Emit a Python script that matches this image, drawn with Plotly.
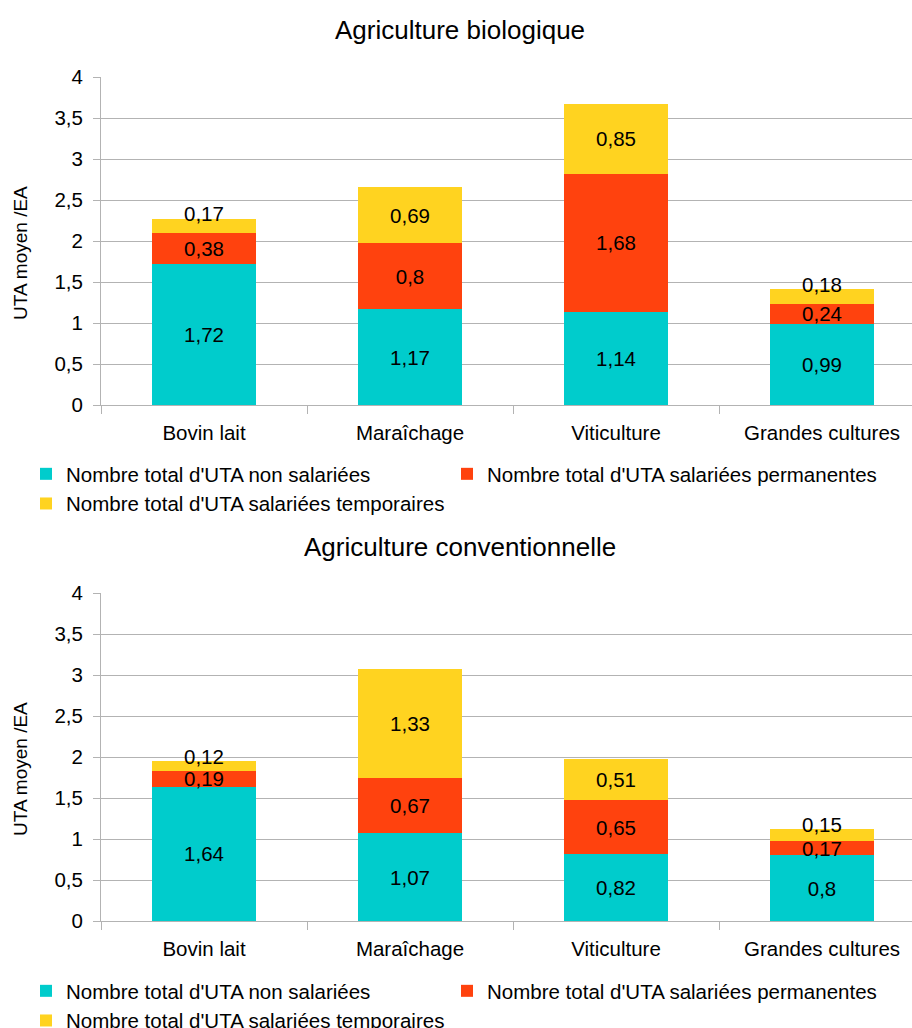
import plotly.graph_objects as go

# --- data -------------------------------------------------------------
categories = ["Bovin lait", "Maraîchage", "Viticulture", "Grandes cultures"]

series_names = [
    "Nombre total d'UTA non salariées",
    "Nombre total d'UTA salariées permanentes",
    "Nombre total d'UTA salariées temporaires",
]

bio_non_salariees = [1.72, 1.17, 1.14, 0.99]
bio_permanentes = [0.38, 0.8, 1.68, 0.24]
bio_temporaires = [0.17, 0.69, 0.85, 0.18]

conv_non_salariees = [1.64, 1.07, 0.82, 0.8]
conv_permanentes = [0.19, 0.67, 0.65, 0.17]
conv_temporaires = [0.12, 1.33, 0.51, 0.15]

panel_titles = ["Agriculture biologique", "Agriculture conventionnelle"]
y_title = "UTA moyen /EA"

# --- style ------------------------------------------------------------
colors = ["#00cccc", "#ff420e", "#ffd320"]
FONT = "Liberation Sans, Arial, sans-serif"
GRID = "#b3b3b3"
W, H = 912, 1028
L_MARGIN = 101
TXT = 20.5

# vertical placement of each panel (pixels from top: value 4 -> value 0)
panels = [
    dict(top=77, bottom=405, title_y=30, legend_top=454,
         series=[bio_non_salariees, bio_permanentes, bio_temporaires]),
    dict(top=593, bottom=921, title_y=547, legend_top=971,
         series=[conv_non_salariees, conv_permanentes, conv_temporaires]),
]
# legend columns: left column holds series 0 and 2, right column series 1
legend_cols_x = [26, 447]


def fr(v):
    """Number with a decimal comma."""
    return f"{v:g}".replace(".", ",")


fig = go.Figure()
annotations = []
plot_w = W - L_MARGIN

for p_idx, panel in enumerate(panels):
    suffix = "" if p_idx == 0 else str(p_idx + 1)
    xa, ya = "x" + suffix, "y" + suffix
    left_legend = "legend" + suffix
    right_legend = "legend" + str(p_idx + 3)
    values = panel["series"]
    n_series = len(values)

    for s_idx, (name, vals) in enumerate(zip(series_names, values)):
        is_top = s_idx == n_series - 1
        texts = []
        for c_idx, v in enumerate(vals):
            # thin top segments get their label just above the stack instead
            if is_top and v < 0.3:
                texts.append("")
                stack_top = sum(values[k][c_idx] for k in range(n_series))
                annotations.append(dict(
                    x=categories[c_idx], y=stack_top, xref=xa, yref=ya,
                    text=fr(v), showarrow=False, yanchor="middle", yshift=5,
                    font=dict(family=FONT, size=TXT, color="#000000"),
                ))
            else:
                texts.append(fr(v))
        fig.add_trace(go.Bar(
            x=categories, y=vals, name=name,
            marker=dict(color=colors[s_idx], line=dict(width=0)),
            width=0.505,
            text=texts, textposition="inside", insidetextanchor="middle",
            textangle=0, constraintext="none", cliponaxis=False,
            textfont=dict(family=FONT, size=TXT, color="#000000"),
            xaxis=xa, yaxis=ya,
            legend=right_legend if s_idx == 1 else left_legend,
            hoverinfo="skip",
        ))

    dom = [1 - panel["bottom"] / H, 1 - panel["top"] / H]
    fig.layout["xaxis" + suffix] = dict(
        domain=[0, 1], anchor=ya, type="category",
        categoryorder="array", categoryarray=categories,
        range=[-0.5, -0.5 + plot_w / 206.0],
        showline=True, linecolor=GRID, linewidth=1,
        ticks="outside", ticklen=8, tickcolor=GRID, tickson="boundaries",
        showgrid=False, ticklabelstandoff=9,
        tickfont=dict(family=FONT, size=TXT, color="#000000"),
        fixedrange=True,
    )
    fig.layout["yaxis" + suffix] = dict(
        domain=dom, anchor=xa, range=[0, 4], dtick=0.5, tick0=0,
        showline=True, linecolor=GRID, linewidth=1,
        showgrid=True, gridcolor=GRID, gridwidth=1, zeroline=False,
        ticks="outside", ticklen=7, tickcolor=GRID, ticklabelstandoff=6,
        tickfont=dict(family=FONT, size=TXT, color="#000000"),
        fixedrange=True,
    )

    # panel title
    annotations.append(dict(
        x=(460 - L_MARGIN) / plot_w, y=1 - panel["title_y"] / H,
        xref="paper", yref="paper", text=panel_titles[p_idx],
        showarrow=False, xanchor="center", yanchor="middle",
        font=dict(family=FONT, size=26, color="#000000"),
    ))
    # vertical axis title
    annotations.append(dict(
        x=(20 - L_MARGIN) / plot_w,
        y=1 - ((panel["top"] + panel["bottom"]) / 2 + 12) / H,
        xref="paper", yref="paper", text=y_title, textangle=-90,
        showarrow=False, xanchor="center", yanchor="middle",
        font=dict(family=FONT, size=19, color="#000000"),
    ))

    for lg_name, lg_x in zip([left_legend, right_legend], legend_cols_x):
        fig.layout[lg_name] = dict(
            orientation="v", xref="container", yref="container",
            x=lg_x / W, y=1 - panel["legend_top"] / H,
            xanchor="left", yanchor="top", traceorder="normal",
            font=dict(family=FONT, size=TXT, color="#000000"),
            bgcolor="rgba(0,0,0,0)", borderwidth=0,
        )

fig.update_layout(
    width=W, height=H,
    margin=dict(l=L_MARGIN, r=0, t=0, b=0, autoexpand=False),
    barmode="stack", bargap=0.5,
    paper_bgcolor="#ffffff", plot_bgcolor="#ffffff",
    separators=", ",
    font=dict(family=FONT, size=TXT, color="#000000"),
    annotations=annotations,
    showlegend=True,
)

fig.write_html("out.html")
